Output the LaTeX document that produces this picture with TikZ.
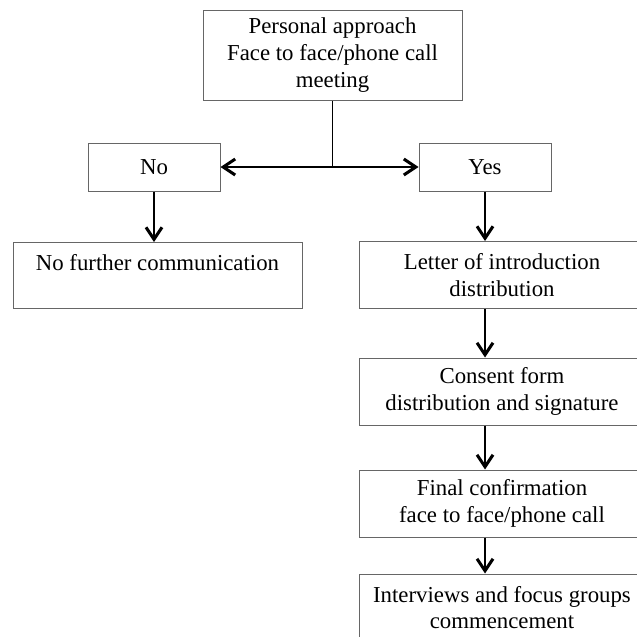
\documentclass[tikz,border=0pt]{standalone}
\usepackage{fontspec}
\setmainfont{Liberation Serif}
\usetikzlibrary{arrows.meta}

\tikzset{
  stepbox/.style={draw=black!60, line width=0.5pt, inner sep=0pt, align=center,
    font=\fontsize{11.4}{13.3}\selectfont},
  smallbox/.style={stepbox, minimum width=66pt, minimum height=24pt},
  colbox/.style={stepbox, minimum width=143pt, minimum height=33.5pt},
  flow/.style={line width=0.75pt, -{Straight Barb[length=6pt,width=8pt,line width=1.5pt]}}
}

\begin{document}
\begin{tikzpicture}[x=0.5pt,y=-0.5pt]
  \useasboundingbox (0,0) rectangle (637,637);
  \clip (0,0) rectangle (637,637);
  %first contact
  \node[stepbox, minimum width=129.5pt, minimum height=45pt] (approach) at (332.5,55)
    {Personal approach\\Face to face/phone call\\meeting};
  \node[smallbox] (no) at (154,167) {No};
  \node[smallbox] (yes) at (485,167) {Yes};
  \node[stepbox, minimum width=144.5pt, text height=14pt, text depth=19pt, anchor=north]
    (nofurther) at (157.5,242) {No further communication};
  %right column
  \node[colbox] (letter) at (502,275) {Letter of introduction\\distribution};
  \node[colbox] (consent) at (502,391.5) {Consent form\\distribution and signature};
  \node[colbox] (confirm) at (502,503.5) {Final confirmation\\face to face/phone call};
  \node[colbox] (interviews) at (502,607.5) {Interviews and focus groups\\commencement};
  %connectors
  \coordinate (split) at (approach.south |- no.east);
  \draw[line width=0.75pt] (approach.south) -- (split);
  \draw[flow] (split) -- (no.east);
  \draw[flow] (split) -- (yes.west);
  \draw[flow] (no.south) -- (no.south |- nofurther.north);
  \draw[flow] (yes.south) -- (yes.south |- letter.north);
  \draw[flow] (letter.south -| yes.south) -- (consent.north -| yes.south);
  \draw[flow] (consent.south -| yes.south) -- (confirm.north -| yes.south);
  \draw[flow] (confirm.south -| yes.south) -- (interviews.north -| yes.south);
\end{tikzpicture}
\end{document}
